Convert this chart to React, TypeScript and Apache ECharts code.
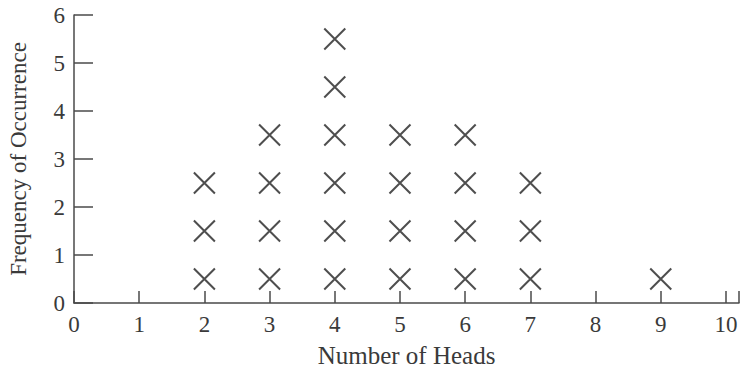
import React, { useEffect, useRef } from "react";
import * as echarts from "echarts";

// Number of heads observed, and how many times each count occurred
const headCounts = [0, 1, 2, 3, 4, 5, 6, 7, 8, 9, 10];
const frequencies = [0, 0, 3, 4, 6, 4, 4, 3, 0, 1, 0];
const xTicks = [0, 1, 2, 3, 4, 5, 6, 7, 8, 9, 10];
const yTicks = [0, 1, 2, 3, 4, 5, 6];

const FONT = "'Liberation Serif', serif";
const INK = "#3a3a3a";
const AXIS = "#4a4a4a";

// One "X" per occurrence, stacked in the middle of each unit band
function buildMarks(): number[][] {
  const pts: number[][] = [];
  headCounts.forEach((h, i) => {
    for (let k = 0; k < frequencies[i]; k++) pts.push([h, k + 0.5]);
  });
  return pts;
}

export default function App() {
  const ref = useRef<HTMLDivElement>(null);
  useEffect(() => {
    if (!ref.current) return;
    const chart = echarts.init(ref.current, null, { renderer: "svg" });
    chart.setOption({
      animation: false,
      backgroundColor: "#fff",
      grid: {
        left: 74,
        right: 7,
        top: 15,
        bottom: 66,
        outerBoundsMode: "none",
        containLabel: false,
      },
      xAxis: {
        type: "value",
        min: xTicks[0],
        max: 10.2,
        interval: 1,
        name: "Number of Heads",
        nameLocation: "middle",
        nameGap: 40,
        nameTextStyle: { fontFamily: FONT, fontSize: 25, color: INK },
        axisLine: { lineStyle: { color: AXIS, width: 1.5 } },
        axisTick: { inside: true, length: 12, lineStyle: { color: AXIS, width: 1.5 } },
        axisLabel: {
          margin: 10,
          fontFamily: FONT,
          fontSize: 23,
          color: INK,
          formatter: (v: number) => (xTicks.includes(v) ? String(v) : ""),
        },
        splitLine: { show: false },
      },
      yAxis: {
        type: "value",
        min: yTicks[0],
        max: yTicks[yTicks.length - 1],
        interval: 1,
        name: "Frequency of Occurrence",
        nameLocation: "middle",
        nameGap: 44,
        nameTextStyle: { fontFamily: FONT, fontSize: 23, color: INK },
        axisLine: { show: true, lineStyle: { color: AXIS, width: 1.5 } },
        axisTick: { show: true, inside: true, length: 19, lineStyle: { color: AXIS, width: 1.5 } },
        axisLabel: { margin: 9, fontFamily: FONT, fontSize: 23, color: INK },
        splitLine: { show: false },
      },
      series: [
        {
          type: "scatter",
          data: buildMarks(),
          symbol: "path://M0,0L10,10M10,0L0,10",
          symbolSize: 21,
          itemStyle: { color: "transparent", borderColor: "#222", borderWidth: 2 },
        },
      ],
    });
    return () => chart.dispose();
  }, []);
  return (
    <div
      ref={ref}
      style={{ position: "fixed", left: 0, top: 0, width: 746, height: 369 }}
    />
  );
}
